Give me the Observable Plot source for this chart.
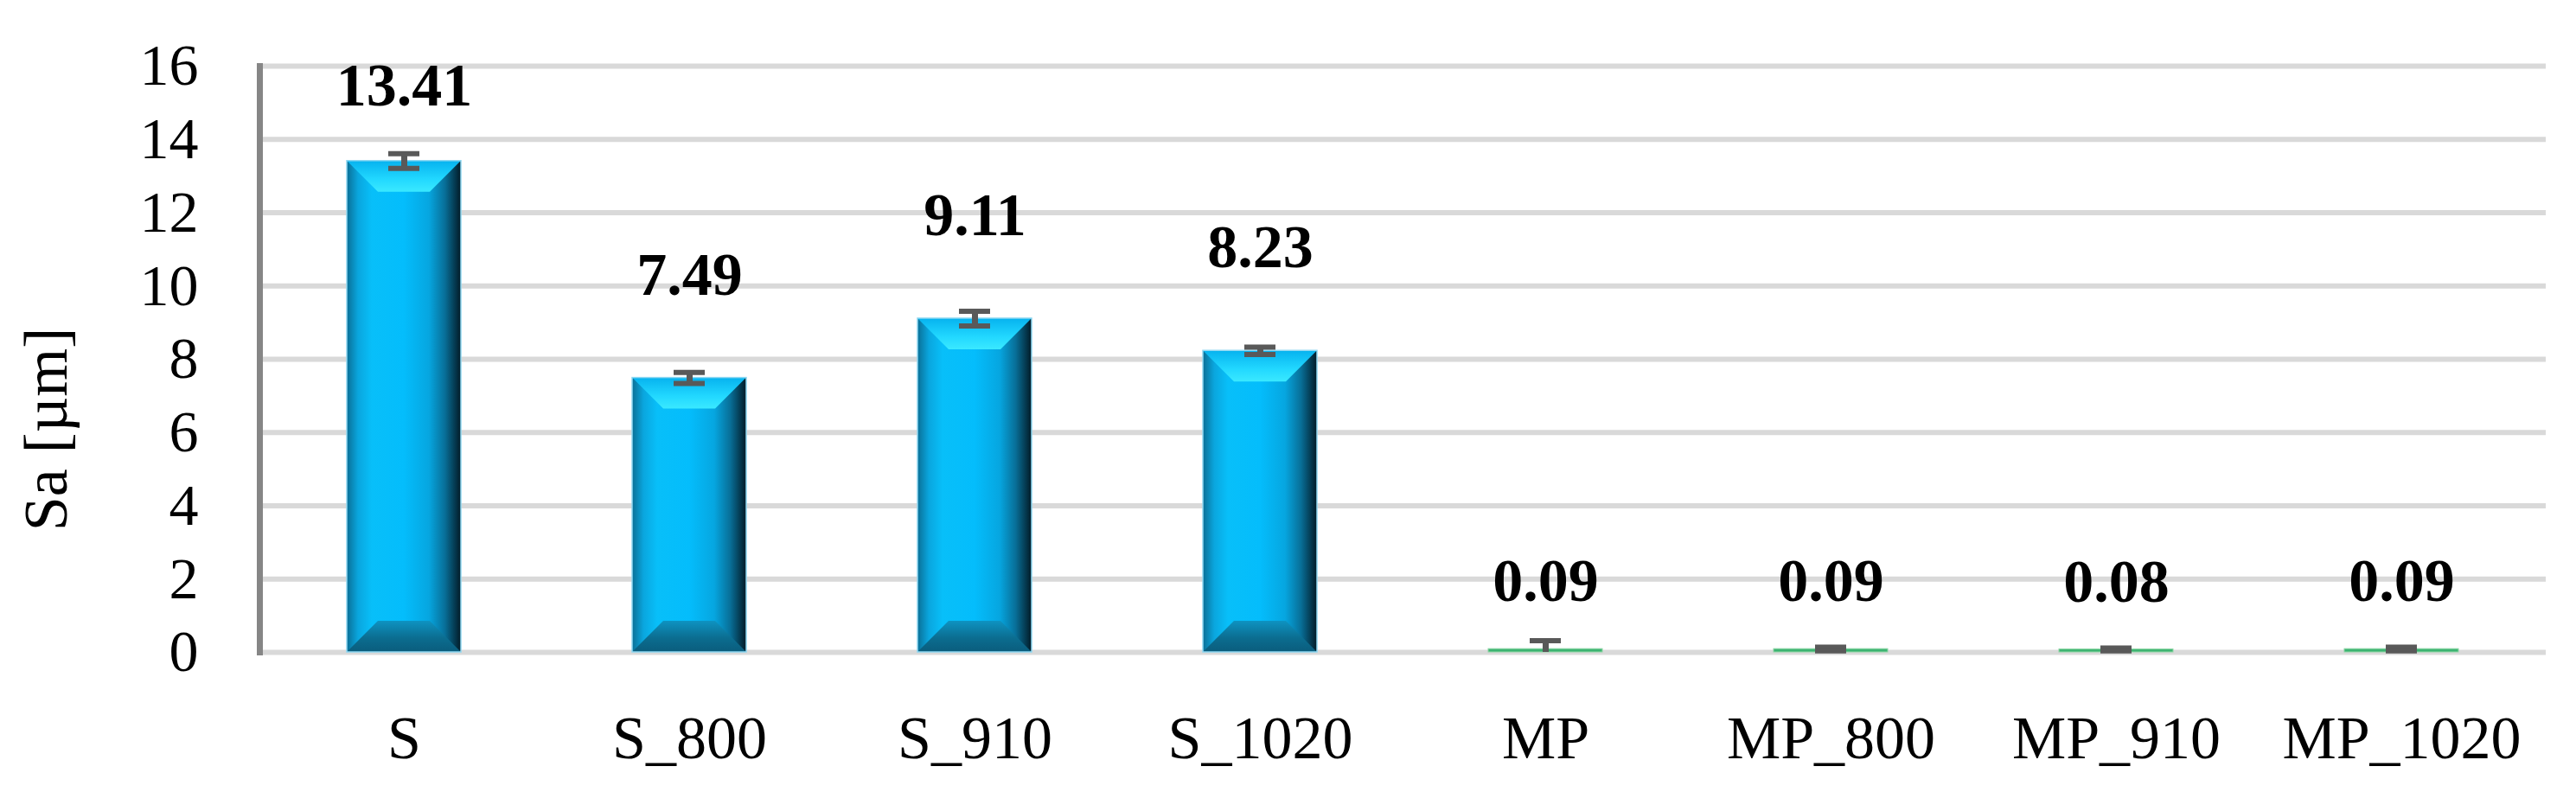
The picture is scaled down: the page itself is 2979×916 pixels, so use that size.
<!DOCTYPE html>
<html>
<head>
<meta charset="utf-8">
<script src="https://cdn.jsdelivr.net/npm/d3@7"></script>
<script src="https://cdn.jsdelivr.net/npm/@observablehq/plot@0.6"></script>
<style>
  html, body { margin: 0; padding: 0; background: #ffffff; }
  #chart svg { display: block; }
</style>
</head>
<body>
<div id="chart"></div>
<script>
// ---- data ----
const categories = ["S", "S_800", "S_910", "S_1020", "MP", "MP_800", "MP_910", "MP_1020"];
const values = [13.41, 7.49, 9.11, 8.23, 0.09, 0.09, 0.08, 0.09];
const errors = [0.2, 0.15, 0.2, 0.1, 0.23, 0.05, 0.04, 0.05];
const yTicks = [0, 2, 4, 6, 8, 10, 12, 14, 16];
const yLabel = "Sa [µm]";

const data = categories.map((c, i) => ({
  cat: c,
  value: values[i],
  err: errors[i],
  group: c.startsWith("MP") ? "MP" : "S"
}));
const sData = data.filter(d => d.group === "S");
const mpData = data.filter(d => d.group === "MP");

const font = "'Liberation Serif', 'Times New Roman', serif";

const plot = Plot.plot({
  width: 2979,
  height: 916,
  marginLeft: 300,
  marginRight: 35,
  marginTop: 76,
  marginBottom: 162,
  style: { fontFamily: font, fontSize: "68px", color: "#000", background: "#fff" },
  x: { domain: categories, paddingInner: 0.6, paddingOuter: 0.3, label: null },
  y: { domain: [0, 16], label: null },
  marks: [
    Plot.gridY(yTicks, { stroke: "#d9d9d9", strokeOpacity: 1, strokeWidth: 6 }),
    Plot.barY(sData, { x: "cat", y: "value", fill: "url(#blueGrad)" }),
    Plot.barY(mpData, { x: "cat", y: "value", fill: "#3cb371", stroke: "#8fd6a6", strokeWidth: 1 }),
    Plot.ruleX(data, {
      x: "cat",
      y1: d => Math.max(0, d.value - d.err),
      y2: d => d.value + d.err,
      stroke: "#595959",
      strokeWidth: 7
    }),
    Plot.tickY(data, {
      x: "cat", y: d => d.value + d.err,
      stroke: "#595959", strokeWidth: 6, insetLeft: 48, insetRight: 48
    }),
    Plot.tickY(data.filter(d => d.value - d.err >= 0), {
      x: "cat", y: d => d.value - d.err,
      stroke: "#595959", strokeWidth: 6, insetLeft: 48, insetRight: 48
    }),
    Plot.text(sData, {
      x: "cat", y: d => Math.min(d.value, 12.65),
      text: d => d.value.toFixed(2),
      dy: -119, fontWeight: "bold", fontSize: 70, fill: "#000", lineAnchor: "middle"
    }),
    Plot.text(mpData, {
      x: "cat", y: "value",
      text: d => d.value.toFixed(2),
      dy: -78, fontWeight: "bold", fontSize: 70, fill: "#000", lineAnchor: "middle"
    }),
    Plot.axisY(yTicks, { tickSize: 0, tickPadding: 71, label: null, fontSize: 68 }),
    Plot.axisX({ tickSize: 0, tickPadding: 73, label: null, fontSize: 70 }),
    Plot.text([yLabel], {
      frameAnchor: "left", text: d => d, rotate: -90,
      dx: -247, dy: 81, fontSize: 72, fill: "#000", lineAnchor: "middle", textAnchor: "middle"
    }),
    Plot.frame({ anchor: "left", stroke: "#868686", strokeWidth: 7 })
  ]
});

// gradients for the bevelled 3-D look of the bars
const svg = d3.select(plot);
const defs = svg.insert("defs", ":first-child");
const hg = defs.append("linearGradient").attr("id", "blueGrad")
  .attr("x1", "0").attr("x2", "1").attr("y1", "0").attr("y2", "0");
[["0%", "#0a6f96"], ["10%", "#0aa6de"], ["22%", "#08bff9"], ["50%", "#04bdfc"],
 ["72%", "#06a6e0"], ["86%", "#086f98"], ["100%", "#021a26"]]
  .forEach(([o, c]) => hg.append("stop").attr("offset", o).attr("stop-color", c));
const tg = defs.append("linearGradient").attr("id", "topGrad")
  .attr("x1", "0").attr("x2", "0").attr("y1", "0").attr("y2", "1");
[["0%", "#06b2ef"], ["60%", "#22d8ff"], ["100%", "#3ae9ff"]]
  .forEach(([o, c]) => tg.append("stop").attr("offset", o).attr("stop-color", c));
const bg = defs.append("linearGradient").attr("id", "botGrad")
  .attr("x1", "0").attr("x2", "0").attr("y1", "0").attr("y2", "1");
[["0%", "#0e93c2"], ["55%", "#0b6d90"], ["100%", "#0a5c7c"]]
  .forEach(([o, c]) => bg.append("stop").attr("offset", o).attr("stop-color", c));

// find the rects of the blue bars (fill may sit on the group or on each rect)
const blueRects = [];
plot.querySelectorAll("rect").forEach(r => {
  const own = r.getAttribute("fill");
  const parentFill = r.parentNode && r.parentNode.getAttribute && r.parentNode.getAttribute("fill");
  if ((own && own.includes("blueGrad")) || (!own && parentFill && parentFill.includes("blueGrad"))) {
    blueRects.push(r);
  }
});
blueRects.forEach(node => {
  const parent = d3.select(node.parentNode);
  const r = d3.select(node);
  const x = +r.attr("x"), y = +r.attr("y"), w = +r.attr("width"), h = +r.attr("height");
  const d = 36;
  parent.append("polygon")
    .attr("points", `${x},${y} ${x + w},${y} ${x + w - d},${y + d} ${x + d},${y + d}`)
    .attr("fill", "url(#topGrad)");
  parent.append("polygon")
    .attr("points", `${x + d},${y + h - d} ${x + w - d},${y + h - d} ${x + w},${y + h} ${x},${y + h}`)
    .attr("fill", "url(#botGrad)");
  parent.append("rect").attr("x", x).attr("y", y).attr("width", w).attr("height", h)
    .attr("fill", "none").attr("stroke", "#8fd8f2").attr("stroke-width", 1.5);
});

document.getElementById("chart").appendChild(plot);
</script>
</body>
</html>
